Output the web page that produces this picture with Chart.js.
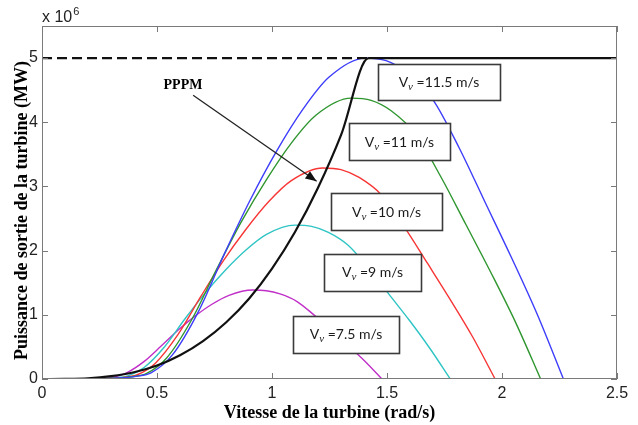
<!DOCTYPE html>
<html>
<head>
<meta charset="utf-8">
<script src="https://cdn.jsdelivr.net/npm/chart.js@4"></script>
<style>
  html, body { margin: 0; padding: 0; background: #fff; }
  #wrap { width: 638px; height: 425px; }
</style>
</head>
<body>
<div id="wrap"><canvas id="myChart" width="638" height="425"></canvas></div>
<script>
// rotor speed (rad/s) and output power (x 10^6 W) for each wind speed
var omega115 = [0, 0.227, 0.34, 0.408, 0.476, 0.567, 0.68, 0.793, 0.907, 1.02, 1.134, 1.247, 1.406, 1.496, 1.587, 1.70, 1.814, 1.927, 2.04, 2.154, 2.267];
var power115 = [0, 0, 0.015, 0.04, 0.10, 0.375, 1.05, 1.95, 2.80, 3.55, 4.20, 4.70, 5.0, 4.96, 4.775, 4.35, 3.60, 2.75, 1.90, 1.00, 0];

var omega11 = [0, 0.217, 0.325, 0.39, 0.455, 0.542, 0.65, 0.759, 0.867, 0.976, 1.084, 1.192, 1.344, 1.431, 1.518, 1.626, 1.734, 1.843, 1.951, 2.06, 2.168];
var power11 = [0, 0, 0.013, 0.035, 0.088, 0.328, 0.919, 1.707, 2.451, 3.107, 3.676, 4.113, 4.376, 4.341, 4.179, 3.807, 3.151, 2.407, 1.663, 0.875, 0];

var omega10 = [0, 0.197, 0.296, 0.355, 0.414, 0.493, 0.591, 0.690, 0.788, 0.887, 0.985, 1.084, 1.221, 1.30, 1.379, 1.478, 1.576, 1.675, 1.773, 1.872, 1.97];
var power10 = [0, 0, 0.01, 0.026, 0.066, 0.247, 0.690, 1.282, 1.841, 2.334, 2.762, 3.091, 3.288, 3.262, 3.140, 2.861, 2.367, 1.808, 1.249, 0.658, 0];

var omega9 = [0, 0.178, 0.266, 0.32, 0.373, 0.444, 0.533, 0.621, 0.71, 0.799, 0.888, 0.976, 1.10, 1.172, 1.243, 1.331, 1.42, 1.509, 1.598, 1.686, 1.775];
var power9 = [0, 0, 0.007, 0.019, 0.048, 0.18, 0.503, 0.935, 1.342, 1.702, 2.013, 2.253, 2.397, 2.378, 2.289, 2.085, 1.726, 1.318, 0.911, 0.479, 0];

var omega75 = [0, 0.148, 0.222, 0.266, 0.31, 0.37, 0.443, 0.517, 0.591, 0.665, 0.739, 0.813, 0.916, 0.975, 1.035, 1.109, 1.182, 1.256, 1.33, 1.404, 1.478];
var power75 = [0, 0, 0.004, 0.011, 0.028, 0.10, 0.27, 0.51, 0.76, 0.98, 1.165, 1.304, 1.387, 1.376, 1.325, 1.207, 0.999, 0.763, 0.527, 0.277, 0];

// maximum power point tracking curve, then rated power
var omegaMppt = [0, 0.1, 0.2, 0.3, 0.4, 0.5, 0.6, 0.7, 0.8, 0.9, 1.0, 1.1, 1.2, 1.3, 1.42, 2.5];
var powerMppt = [0, 0.002, 0.012, 0.045, 0.105, 0.21, 0.37, 0.59, 0.88, 1.25, 1.72, 2.29, 2.98, 3.80, 5.0, 5.0];

var omegaRated = [0, 1.42];
var powerRated = [5, 5];

var windSpeeds = ['11.5', '11', '10', '9', '7.5'];
var xTicks = [0, 0.5, 1, 1.5, 2, 2.5];
var yTicks = [0, 1, 2, 3, 4, 5];

function pairs(xs, ys) {
    return xs.map(function (x, i) { return { x: x, y: ys[i] }; });
}

function curve(xs, ys, color, width) {
    return {
        data: pairs(xs, ys),
        borderColor: color,
        borderWidth: width,
        showLine: true,
        pointRadius: 0,
        cubicInterpolationMode: 'monotone',
        fill: false
    };
}

var datasets = [
    curve(omegaMppt, powerMppt, '#111111', 2.2),
    Object.assign(curve(omegaRated, powerRated, '#111111', 2.2), { borderDash: [10, 5] }),
    curve(omega115, power115, '#3d3dfa', 1.4),
    curve(omega11, power11, '#2f962f', 1.4),
    curve(omega10, power10, '#f73535', 1.4),
    curve(omega9, power9, '#2fc4c4', 1.4),
    curve(omega75, power75, '#c02fc8', 1.4)
];

// label boxes: centre in data units, size in px
var boxes = [
    { w: windSpeeds[0], x: 1.726, y: 4.625, bw: 122, bh: 36 },
    { w: windSpeeds[1], x: 1.554, y: 3.695, bw: 101, bh: 37 },
    { w: windSpeeds[2], x: 1.498, y: 2.602, bw: 111, bh: 37 },
    { w: windSpeeds[3], x: 1.437, y: 1.664, bw: 97, bh: 37 },
    { w: windSpeeds[4], x: 1.322, y: 0.695, bw: 106, bh: 37 }
];

var tickFont = "'Liberation Sans Narrow', 'Liberation Sans', Arial, sans-serif";
var titleFont = "'Liberation Serif', 'Times New Roman', serif";

var decorations = {
    id: 'decorations',
    afterDraw: function (chart) {
        var c = chart.ctx, a = chart.chartArea;
        var xs = chart.scales.x, ys = chart.scales.y;
        c.save();

        // axes box
        c.strokeStyle = '#7a7a7a';
        c.lineWidth = 1;
        c.strokeRect(a.left + 0.5, a.top + 0.5, a.right - a.left - 1, a.bottom - a.top - 1);

        // inward ticks on all four sides
        c.beginPath();
        xTicks.forEach(function (v) {
            var px = Math.round(xs.getPixelForValue(v)) + 0.5;
            c.moveTo(px, a.bottom); c.lineTo(px, a.bottom - 6);
            c.moveTo(px, a.top); c.lineTo(px, a.top + 6);
        });
        yTicks.forEach(function (v) {
            var py = Math.round(ys.getPixelForValue(v)) + 0.5;
            c.moveTo(a.left, py); c.lineTo(a.left + 6, py);
            c.moveTo(a.right, py); c.lineTo(a.right - 6, py);
        });
        c.stroke();

        // exponent
        c.fillStyle = '#222';
        c.textBaseline = 'alphabetic';
        c.textAlign = 'left';
        c.font = '16px ' + tickFont;
        c.fillText('x 10', a.left, a.top - 4);
        var ew = c.measureText('x 10').width;
        c.font = '11px ' + tickFont;
        c.fillText('6', a.left + ew + 1, a.top - 11);

        // axis titles
        c.fillStyle = '#000';
        c.font = 'bold 18px ' + titleFont;
        c.textAlign = 'center';
        c.fillText('Vitesse de la turbine (rad/s)', (a.left + a.right) / 2, 418);
        c.save();
        c.translate(27, (a.top + a.bottom) / 2 + 8);
        c.rotate(-Math.PI / 2);
        c.fillText('Puissance de sortie de la turbine (MW)', 0, 0);
        c.restore();

        // PPPM arrow
        var sx = xs.getPixelForValue(0.657), sy = ys.getPixelForValue(4.42);
        var ex = xs.getPixelForValue(1.194), ey = ys.getPixelForValue(3.08);
        c.font = 'bold 14px ' + titleFont;
        c.fillText('PPPM', xs.getPixelForValue(0.613), ys.getPixelForValue(4.59) + 5);
        c.strokeStyle = '#222';
        c.lineWidth = 1.3;
        c.beginPath();
        c.moveTo(sx, sy); c.lineTo(ex, ey);
        c.stroke();
        var ang = Math.atan2(ey - sy, ex - sx);
        c.fillStyle = '#111';
        c.beginPath();
        c.moveTo(ex, ey);
        c.lineTo(ex - 12 * Math.cos(ang - 0.38), ey - 12 * Math.sin(ang - 0.38));
        c.lineTo(ex - 12 * Math.cos(ang + 0.38), ey - 12 * Math.sin(ang + 0.38));
        c.closePath();
        c.fill();

        // wind speed label boxes
        boxes.forEach(function (b) {
            var cx = xs.getPixelForValue(b.x), cy = ys.getPixelForValue(b.y);
            var l = Math.round(cx - b.bw / 2) + 0.5, t = Math.round(cy - b.bh / 2) + 0.5;
            c.fillStyle = '#fff';
            c.fillRect(l, t, b.bw, b.bh);
            c.strokeStyle = '#3a3a3a';
            c.lineWidth = 1.6;
            c.strokeRect(l, t, b.bw, b.bh);

            var main = "14px Lato, 'Open Sans', sans-serif";
            var sub = "italic 11px " + titleFont;
            var rest = ' =' + b.w + ' m/s';
            c.font = main; var w1 = c.measureText('V').width; var w3 = c.measureText(rest).width;
            c.font = sub; var w2 = c.measureText('v').width;
            var tx = cx - (w1 + w2 + w3) / 2, base = cy + 5;
            c.fillStyle = '#1a1a1a';
            c.textAlign = 'left';
            c.font = main; c.fillText('V', tx, base);
            c.font = sub; c.fillText('v', tx + w1, base + 3);
            c.font = main; c.fillText(rest, tx + w1 + w2, base);
        });
        c.restore();
    }
};

var ctx = document.getElementById('myChart').getContext('2d');
var myChart = new Chart(ctx, {
    type: 'scatter',
    data: { datasets: datasets },
    options: {
        responsive: false,
        animation: false,
        layout: { padding: { top: 26, right: 21, left: 0, bottom: 0 } },
        plugins: {
            legend: { display: false },
            tooltip: { enabled: false }
        },
        scales: {
            x: {
                type: 'linear',
                min: 0,
                max: 2.5,
                afterFit: function (s) { s.height = 46; },
                afterBuildTicks: function (s) { s.ticks = xTicks.map(function (v) { return { value: v }; }); },
                grid: { display: false, drawTicks: false },
                border: { display: false },
                ticks: {
                    padding: 5, color: '#222', maxRotation: 0,
                    font: { family: tickFont, size: 16 },
                    callback: function (v) { return String(v); }
                }
            },
            y: {
                type: 'linear',
                min: 0,
                max: 5.5,
                afterFit: function (s) { s.width = 42; },
                afterBuildTicks: function (s) { s.ticks = yTicks.map(function (v) { return { value: v }; }); },
                grid: { display: false, drawTicks: false },
                border: { display: false },
                ticks: {
                    padding: 4, color: '#222',
                    font: { family: tickFont, size: 16 },
                    callback: function (v) { return String(v); }
                }
            }
        }
    },
    plugins: [decorations]
});
</script>
</body>
</html>
